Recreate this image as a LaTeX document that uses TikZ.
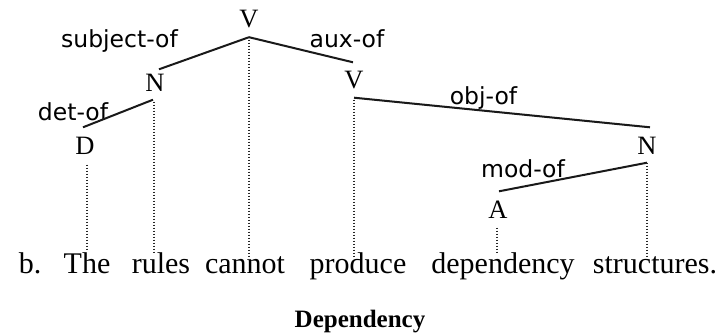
\documentclass[tikz,border=0pt]{standalone}
\usepackage{fontspec}
\setmainfont{Liberation Serif}
\newfontfamily\labfont{DejaVu Sans}
\usetikzlibrary{calc}
\begin{document}
\begin{tikzpicture}[x=1pt,y=-1pt,
  cat/.style={inner sep=0pt,text height=17pt,text depth=0pt,font=\fontsize{26.5}{28}\selectfont},
  word/.style={inner sep=0pt,anchor=base,text height=20pt,text depth=6pt,font=\fontsize{30}{32}\selectfont},
  rel/.style={inner sep=0pt,anchor=base,font=\labfont\fontsize{23.5}{25}\selectfont},
  edge/.style={line width=2pt,black!90},
  proj/.style={line width=1.5pt,dash pattern=on 1.2pt off 1.8pt,black!85}]
\useasboundingbox (0,0) rectangle (728,333);
% category nodes
\node[cat] (vtop) at (249,19) {V};
\node[cat] (n1) at (155,83) {N};
\node[cat] (d) at (85,146) {D};
\node[cat] (v2) at (354,80) {V};
\node[cat] (n2) at (647,146) {N};
\node[cat] (a) at (498,210) {A};
% words
\node[word] (b) at (30,273) {b.};
\node[word] (w1) at (87,273) {The};
\node[word] (w2) at (161,273) {rules};
\node[word] (w3) at (245,273) {cannot};
\node[word] (w4) at (358,273) {produce};
\node[word] (w5) at (503,273) {dependency};
\node[word] (w6) at (655,273) {structures.};
\node[inner sep=0pt,anchor=base,font=\bfseries\fontsize{25}{27}\selectfont] (title) at (360,327) {Dependency};
% relation labels
\node[rel] (lsubj) at (119.5,47) {subject-of};
\node[rel] (laux) at (347,47) {aux-of};
\node[rel] (ldet) at (73,120) {det-of};
\node[rel] (lobj) at (483.5,104) {obj-of};
\node[rel] (lmod) at (523,177) {mod-of};
% dependency edges
\draw[edge] ($(vtop.south)+(0,9.5)$) -- ($(n1.north)+(4,-5)$);
\draw[edge] ($(vtop.south)+(0,9.5)$) -- ($(v2.north)+(-1,-9)$);
\draw[edge] ($(n1.south)+(-2,8)$) -- ($(d.north)+(-2,-10)$);
\draw[edge] ($(v2.south)+(0,9)$) -- ($(n2.north)+(3,-10)$);
\draw[edge] ($(n2.south)+(0,8)$) -- ($(a.north)+(1,-10)$);
% projection lines
\draw[proj] ($(vtop.south)+(0,12)$) -- ($(w3.north)+(4,5)$);
\draw[proj] ($(n1.south)+(-1,10)$) -- ($(w2.north)+(-7,0)$);
\draw[proj] ($(d.south)+(2,10)$) -- ($(w1.north)+(0,-2)$);
\draw[proj] ($(v2.south)+(0,11)$) -- ($(w4.north)+(-4,3)$);
\draw[proj] ($(n2.south)+(0,8)$) -- ($(w6.north)+(-8,3)$);
\draw[proj] ($(a.south)+(-1,9)$) -- ($(w5.north)+(-6,-1)$);
\end{tikzpicture}
\end{document}
